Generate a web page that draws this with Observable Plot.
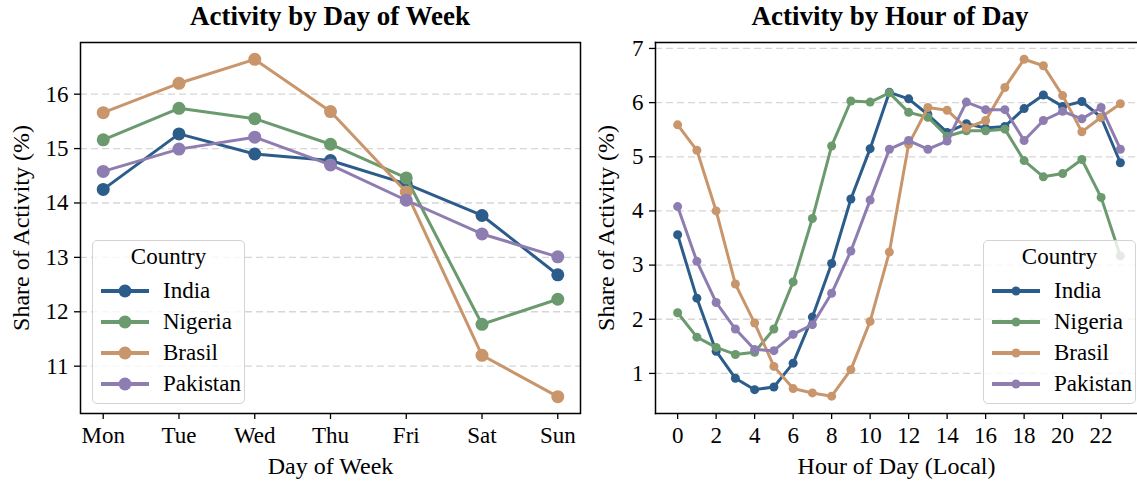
<!DOCTYPE html>
<html>
<head>
<meta charset="utf-8">
<script src="https://cdn.jsdelivr.net/npm/d3@7"></script>
<script src="https://cdn.jsdelivr.net/npm/@observablehq/plot@0.6"></script>
<style>
  html, body { margin: 0; padding: 0; background: #fff; }
  body { width: 1137px; height: 485px; overflow: hidden; position: relative;
         font-family: "Liberation Serif", "Times New Roman", serif; color: #000; }
  .panel { position: absolute; top: 30px; }
  .title { position: absolute; top: 1px; font-weight: bold; font-size: 27px; text-align: center; white-space: nowrap; }
  .legend { position: absolute; box-sizing: border-box; background: rgba(255,255,255,0.8);
            border: 1.5px solid #d3d3d3; border-radius: 5px; font-size: 23px; }
  .legend .lt { position: absolute; left: 0; right: 0; text-align: center; }
  .legend .row { position: absolute; left: 0; height: 30px; }
  .legend .row span { position: absolute; left: 70px; top: 0; line-height: 30px; white-space: nowrap; }
  .legend .row svg { position: absolute; left: 6px; top: 0; }
</style>
</head>
<body>
<div id="root"></div>
<script>
// ---------- data ----------
const countries = ["India", "Nigeria", "Brasil", "Pakistan"];
const palette = ["#2c5d8a", "#6a9a6e", "#c9956b", "#8e7db1"];

const days = ["Mon", "Tue", "Wed", "Thu", "Fri", "Sat", "Sun"];
const indiaDay    = [14.25, 15.27, 14.90, 14.78, 14.35, 13.77, 12.68];
const nigeriaDay  = [15.16, 15.74, 15.55, 15.08, 14.46, 11.77, 12.23];
const brasilDay   = [15.66, 16.20, 16.64, 15.68, 14.20, 11.20, 10.44];
const pakistanDay = [14.58, 14.99, 15.21, 14.70, 14.05, 13.43, 13.01];
const dayYTicks = [11, 12, 13, 14, 15, 16];

const hours = d3.range(24);
const indiaHour    = [3.56, 2.39, 1.41, 0.91, 0.70, 0.75, 1.19, 2.04, 3.03, 4.22, 5.15, 6.19, 6.07, 5.78, 5.45, 5.61, 5.53, 5.56, 5.89, 6.14, 5.93, 6.02, 5.73, 4.89];
const nigeriaHour  = [2.12, 1.67, 1.48, 1.35, 1.39, 1.82, 2.69, 3.86, 5.20, 6.03, 6.01, 6.18, 5.82, 5.73, 5.38, 5.48, 5.48, 5.51, 4.93, 4.63, 4.69, 4.95, 4.25, 3.17];
const brasilHour   = [5.59, 5.12, 4.00, 2.65, 1.93, 1.13, 0.72, 0.64, 0.58, 1.07, 1.96, 3.24, 5.23, 5.91, 5.86, 5.53, 5.67, 6.28, 6.80, 6.68, 6.13, 5.46, 5.73, 5.98];
const pakistanHour = [4.08, 3.07, 2.31, 1.82, 1.44, 1.42, 1.72, 1.90, 2.48, 3.26, 4.20, 5.14, 5.30, 5.14, 5.29, 6.01, 5.87, 5.87, 5.30, 5.67, 5.84, 5.70, 5.91, 5.14];
const hourXTicks = [0, 2, 4, 6, 8, 10, 12, 14, 16, 18, 20, 22];
const hourYTicks = [1, 2, 3, 4, 5, 6, 7];

// ---------- tables ----------
const daySeries = [indiaDay, nigeriaDay, brasilDay, pakistanDay];
const hourSeries = [indiaHour, nigeriaHour, brasilHour, pakistanHour];
const dayRows = countries.flatMap((c, i) => daySeries[i].map((v, j) => ({country: c, x: j, value: v})));
const hourRows = countries.flatMap((c, i) => hourSeries[i].map((v, j) => ({country: c, x: hours[j], value: v})));

const font = '"Liberation Serif", "Times New Roman", serif';
const color = {domain: countries, range: palette};
const gridStyle = {stroke: "#d6d6d6", strokeWidth: 1.3, strokeDasharray: "7,4"};
const plotStyle = {fontFamily: font, fontSize: "23px", color: "#000", background: "transparent", overflow: "visible"};

function seriesMarks(rows, r, sw) {
  return countries.flatMap(c => [
    Plot.line(rows.filter(d => d.country === c), {x: "x", y: "value", stroke: "country", strokeWidth: sw}),
    Plot.dot(rows.filter(d => d.country === c), {x: "x", y: "value", fill: "country", r})
  ]);
}

const left = Plot.plot({
  width: 590, height: 455,
  marginLeft: 80, marginRight: 10, marginTop: 12, marginBottom: 72,
  style: plotStyle,
  x: {domain: [-0.3, 6.3]},
  y: {domain: [10.13, 16.95]},
  color,
  marks: [
    Plot.ruleY(dayYTicks, gridStyle),
    ...seriesMarks(dayRows, 6.5, 3),
    Plot.frame({stroke: "#000", strokeWidth: 1.5}),
    Plot.axisX(d3.range(7), {tickFormat: i => days[i], tickSize: 6, tickPadding: 7, strokeWidth: 1.3, fontSize: 23, label: null}),
    Plot.axisX({ticks: [], label: "Day of Week", labelAnchor: "center", labelOffset: 60, labelArrow: "none", fontSize: 24}),
    Plot.axisY(dayYTicks, {tickFormat: d => String(d), tickSize: 6, tickPadding: 6, strokeWidth: 1.3, fontSize: 23, label: null}),
    Plot.axisY({ticks: [], label: "Share of Activity (%)", labelAnchor: "center", labelOffset: 69, labelArrow: "none", fontSize: 24})
  ]
});

const right = Plot.plot({
  width: 562, height: 455,
  marginLeft: 80, marginRight: 0, marginTop: 12, marginBottom: 72,
  style: plotStyle,
  x: {domain: [-1.15, 23.89]},
  y: {domain: [0.26, 7.11]},
  color,
  marks: [
    Plot.ruleY(hourYTicks, gridStyle),
    ...seriesMarks(hourRows, 4.5, 3),
    Plot.frame({anchor: "left", stroke: "#000", strokeWidth: 1.5}),
    Plot.frame({anchor: "top", stroke: "#000", strokeWidth: 1.5}),
    Plot.frame({anchor: "bottom", stroke: "#000", strokeWidth: 1.5}),
    Plot.axisX(hourXTicks, {tickFormat: d => String(d), tickSize: 6, tickPadding: 7, strokeWidth: 1.3, fontSize: 23, label: null}),
    Plot.axisX({ticks: [], label: "Hour of Day (Local)", labelAnchor: "center", labelOffset: 60, labelArrow: "none", fontSize: 24}),
    Plot.axisY(hourYTicks, {tickFormat: d => String(d), tickSize: 6, tickPadding: 6, strokeWidth: 1.3, fontSize: 23, label: null}),
    Plot.axisY({ticks: [], label: "Share of Activity (%)", labelAnchor: "center", labelOffset: 59, labelArrow: "none", fontSize: 24})
  ]
});

const root = document.getElementById("root");
function place(el, leftPx) {
  const w = document.createElement("div");
  w.className = "panel";
  w.style.left = leftPx + "px";
  w.appendChild(el);
  root.appendChild(w);
}
place(left, 0);
place(right, 575);

function title(text, cx) {
  const t = document.createElement("div");
  t.className = "title";
  t.textContent = text;
  t.style.left = (cx - 250) + "px";
  t.style.width = "500px";
  root.appendChild(t);
}
title("Activity by Day of Week", 330);
title("Activity by Hour of Day", 890);

function legend(plot, x, y, r) {
  const scale = plot.scale("color");
  const box = document.createElement("div");
  box.className = "legend";
  box.style.left = x + "px";
  box.style.top = y + "px";
  box.style.width = "153px";
  box.style.height = "164px";
  const lt = document.createElement("div");
  lt.className = "lt";
  lt.style.top = "3px";
  lt.textContent = "Country";
  box.appendChild(lt);
  scale.domain.forEach((c, i) => {
    const row = document.createElement("div");
    row.className = "row";
    row.style.top = (35 + i * 31) + "px";
    row.style.width = "150px";
    const col = scale.apply(c);
    row.innerHTML = `<svg width="54" height="30"><line x1="2" x2="50" y1="15" y2="15" stroke="${col}" stroke-width="4"/><circle cx="26" cy="15" r="${r}" fill="${col}"/></svg><span>${c}</span>`;
    box.appendChild(row);
  });
  root.appendChild(box);
}
legend(left, 92, 240, 6.5);
legend(right, 983, 240, 4.5);
</script>
</body>
</html>
